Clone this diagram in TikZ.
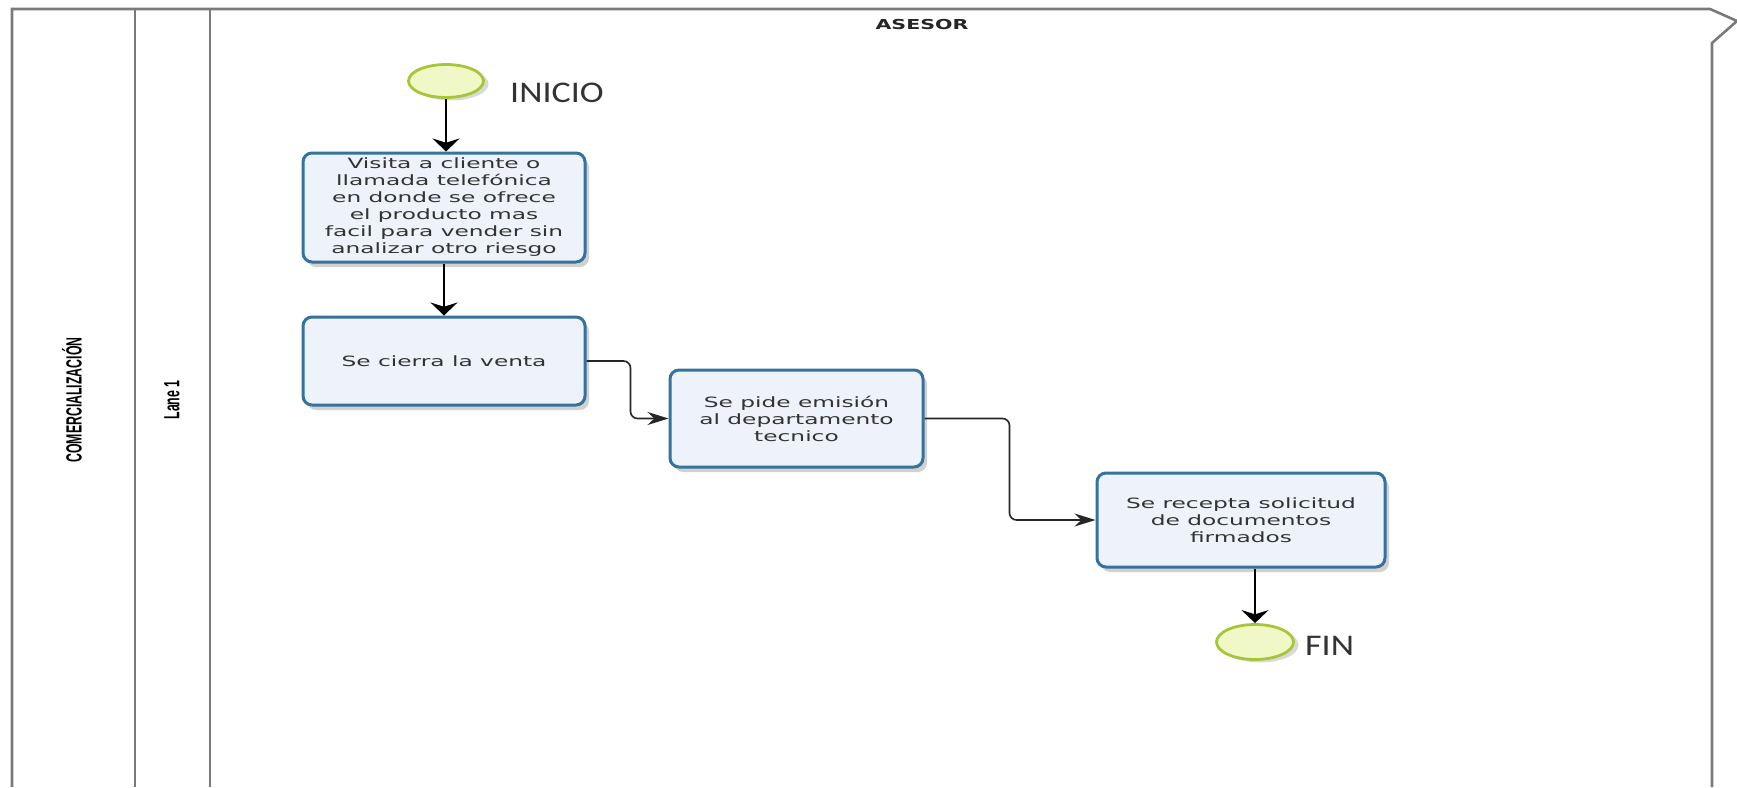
\documentclass[tikz,border=0pt]{standalone}
\usepackage{fontspec}
\usetikzlibrary{arrows.meta,shadows,shapes.geometric}
\newfontfamily\taskfont[FakeStretch=1.64]{DejaVu Sans}
\newfontfamily\headfont[FakeStretch=1.5]{DejaVu Sans Bold}
\newfontfamily\lanefont[FakeStretch=0.56]{Liberation Sans Bold}
\newfontfamily\eventfont[FakeStretch=1.2]{Carlito}
\definecolor{poolgray}{HTML}{7A7A7A}
\definecolor{taskblue}{HTML}{35739C}
\definecolor{taskfill}{HTML}{EEF2FB}
\definecolor{eventgreen}{HTML}{A6C63A}
\definecolor{eventfill}{HTML}{EFF8C6}
\definecolor{inkgray}{HTML}{333333}
\tikzset{
  poolline/.style={draw=poolgray, line width=2.6pt},
  task/.style={draw=taskblue, fill=taskfill, line width=3pt, rounded corners=9pt,
    align=center, text=inkgray, inner sep=2pt,
    font=\taskfont\fontsize{14.2}{17}\selectfont,
    drop shadow={shadow xshift=4pt, shadow yshift=-5pt, opacity=0.18, fill=black}},
  event/.style={ellipse, draw=eventgreen, fill=eventfill, line width=2.8pt,
    minimum width=75pt, minimum height=33pt, inner sep=0pt,
    drop shadow={shadow xshift=5pt, shadow yshift=-3pt, opacity=0.15, fill=black}},
  eventlabel/.style={anchor=west, text=inkgray, inner sep=0pt,
    font=\eventfont\fontsize{30}{32}\selectfont},
  lanelabel/.style={rotate=90, text=black, inner sep=0pt,
    font=\lanefont\fontsize{22}{24}\selectfont},
  vflow/.style={draw=black, line width=2.2pt, -{Stealth[length=13pt, width=27pt]}},
  hflow/.style={draw=black!85, line width=1.6pt, rounded corners=7pt,
    -{Stealth[length=21pt, width=13pt]}},
}
\begin{document}
\begin{tikzpicture}[x=1pt, y=-1pt]
  \useasboundingbox (0,0) rectangle (1737,787);
  \fill[white] (0,0) rectangle (1737,787);

  % pool frame with its two header columns
  \draw[poolline] (12,787) -- (12,9) -- (1710,9) -- (1737,21) -- (1712,43) -- (1712,787);
  \draw[poolline] (135,9) -- (135,787);
  \draw[poolline] (210,9) -- (210,787);

  \node[lanelabel] (pool) at (72,400) {COMERCIALIZACIÓN};
  \node[lanelabel] (lane) at (172,400) {Lane 1};
  \node[text=black!85, font=\headfont\fontsize{13.7}{15}\selectfont] (asesor) at (922,25) {ASESOR};

  % events
  \node[event] (start) at (446,81) {};
  \node[eventlabel] (inicio) at (510,93) {INICIO};
  \node[event, minimum width=77pt, minimum height=35pt] (end) at (1255,642) {};
  \node[eventlabel] (fin) at (1305,646) {FIN};

  % tasks
  \node[task, minimum width=282pt, minimum height=109pt] (t1) at (444,207.5)
    {Visita a cliente o\\llamada telefónica\\en donde se ofrece\\el producto mas\\facil para vender sin\\analizar otro riesgo};
  \node[task, minimum width=282pt, minimum height=88pt] (t2) at (444,361)
    {Se cierra la venta};
  \node[task, minimum width=253pt, minimum height=97pt] (t3) at (796.5,418.5)
    {Se pide emisión\\al departamento\\tecnico};
  \node[task, minimum width=288pt, minimum height=94pt] (t4) at (1241,520)
    {Se recepta solicitud\\de documentos\\firmados};

  % sequence flows
  \draw[vflow] (start.south) -- (start.south |- t1.north);
  \draw[vflow] (t1.south) -- (t2.north);
  \draw[hflow] (t2.east) -- ++(44,0) |- (t3.west);
  \draw[hflow] (t3.east) -- ++(85,0) |- (t4.west);
  \draw[vflow] (end.north |- t4.south) -- (end.north);
\end{tikzpicture}
\end{document}
